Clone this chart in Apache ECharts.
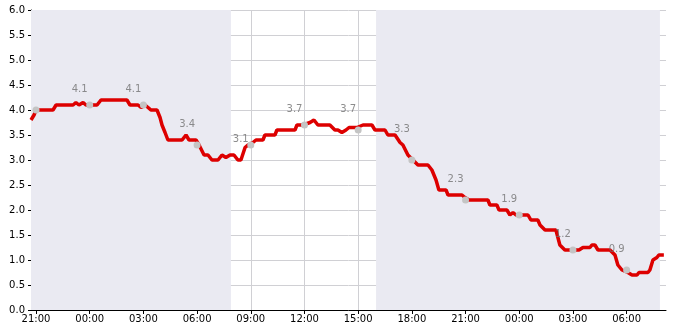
<!DOCTYPE html>
<html><head><meta charset="utf-8">
<script src="https://cdn.jsdelivr.net/npm/echarts@6/dist/echarts.min.js"></script>
<style>html,body{margin:0;padding:0;background:#fff}#c{width:685px;height:330px}</style>
</head><body><div id="c"></div>
<script>
// hours counted from midnight of the first day
const times = [20.72,20.89,21.0,21.95,22.12,23.07,23.23,23.40,23.63,23.79,24.41,24.63,26.08,26.25,26.70,26.87,27.09,27.26,27.42,27.76,27.93,28.04,28.21,28.37,29.16,29.38,29.55,29.94,30.11,30.39,30.61,30.83,31.17,31.39,31.61,31.84,32.06,32.28,32.45,32.68,32.84,33.12,33.29,33.68,33.79,34.35,34.46,35.47,35.58,35.92,36.31,36.53,36.75,37.42,37.70,37.87,38.09,38.32,38.49,38.93,39.27,39.77,39.94,40.50,40.66,41.06,41.34,41.50,41.78,42.06,42.34,42.90,43.12,43.35,43.51,43.91,44.02,44.80,44.97,45.19,46.25,46.36,46.75,46.87,47.31,47.48,47.65,47.82,48.49,48.65,49.04,49.16,49.44,50.05,50.27,50.55,51.34,51.56,51.95,52.06,52.23,52.40,53.07,53.35,53.51,53.74,54.07,54.30,54.58,54.69,55.19,55.30,55.47,55.69,55.80,56.08];
const values = [3.8,3.9,4.0,4.0,4.1,4.1,4.15,4.1,4.15,4.1,4.1,4.2,4.2,4.1,4.1,4.05,4.1,4.05,4.0,4.0,3.85,3.7,3.55,3.4,3.4,3.5,3.4,3.4,3.3,3.1,3.1,3.0,3.0,3.1,3.05,3.1,3.1,3.0,3.0,3.25,3.3,3.35,3.4,3.4,3.5,3.5,3.6,3.6,3.7,3.7,3.75,3.8,3.7,3.7,3.6,3.6,3.55,3.6,3.65,3.65,3.7,3.7,3.6,3.6,3.5,3.5,3.35,3.3,3.1,3.0,2.9,2.9,2.8,2.6,2.4,2.4,2.3,2.3,2.25,2.2,2.2,2.1,2.1,2.0,2.0,1.9,1.95,1.9,1.9,1.8,1.8,1.7,1.6,1.6,1.3,1.2,1.2,1.25,1.25,1.3,1.3,1.2,1.2,1.1,0.9,0.8,0.75,0.7,0.7,0.75,0.75,0.8,1.0,1.05,1.1,1.1];
const markTimes = [21,24,27,30,33,36,39,42,45,48,51,54];
const markValues = [4.0,4.1,4.1,3.3,3.3,3.7,3.6,3.0,2.2,1.9,1.2,0.8];
const labelValues = [null,4.1,4.1,3.4,3.1,3.7,3.7,3.3,2.3,1.9,1.2,0.9];
const nightStart = [20.72,40.0];
const nightEnd = [31.89,55.86];
const xTicks = [21,24,27,30,33,36,39,42,45,48,51,54];
const xMin = 20.72, xMax = 56.2;
const yMin = 0, yMax = 6, yStep = 0.5;

const FONT = 'DejaVu Sans';
const fmtHour = h => String(Math.round(h) % 24).padStart(2,'0') + ':00';
const chart = echarts.init(document.getElementById('c'), null, {renderer:'canvas'});
const lineData = times.map((t,i)=>[t, values[i]]);
const markData = markTimes.map((t,i)=>[t, markValues[i]]);
const labelData = markTimes.map((t,i)=>[t, labelValues[i]]).filter(d=>d[1]!==null);

chart.setOption({
  animation:false,
  backgroundColor:'#ffffff',
  grid:{left:31, right:19, top:10, bottom:20},
  xAxis:{
    type:'value', min:xMin, max:xMax,
    axisLine:{show:true, onZero:false, lineStyle:{color:'#000', width:1}},
    axisTick:{show:true, inside:false, length:4, customValues:xTicks, lineStyle:{color:'#000'}},
    axisLabel:{show:true, customValues:xTicks, formatter:fmtHour, color:'#000', fontFamily:FONT, fontSize:10, margin:4},
    splitLine:{show:true, lineStyle:{color:'#d0d0d4', width:1}}
  },
  yAxis:[{
    type:'value', min:yMin, max:yMax, interval:yStep,
    axisLine:{show:true, lineStyle:{color:'#000', width:1}},
    axisTick:{show:true, inside:true, length:3, lineStyle:{color:'#000'}},
    minorTick:{show:true, splitNumber:5, length:3, lineStyle:{color:'#000'}},
    axisLabel:{formatter:v=>v.toFixed(1), color:'#000', fontFamily:FONT, fontSize:10, margin:6},
    splitLine:{show:true, lineStyle:{color:'#d0d0d4', width:1}}
  },{
    type:'value', min:yMin, max:yMax, interval:yStep, position:'left',
    axisLine:{show:false},
    axisTick:{show:true, inside:false, length:3, lineStyle:{color:'#000'}},
    axisLabel:{show:false},
    splitLine:{show:false}
  }],
  series:[
    {
      type:'line', data:[], z:-1, silent:true,
      markArea:{silent:true, itemStyle:{color:'#eaeaf2'},
        data: nightStart.map((s,i)=>[{xAxis:s},{xAxis:nightEnd[i]}])}
    },
    {
      type:'line', data:lineData, showSymbol:false, z:3,
      lineStyle:{color:'#dd0000', width:3.5}, itemStyle:{color:'#dd0000'}
    },
    {
      type:'scatter', data:markData, symbolSize:7, zlevel:1, z:4,
      itemStyle:{color:'#c4c4c4', opacity:1}
    },
    {
      type:'scatter', data:labelData, symbolSize:1, zlevel:1, z:5,
      itemStyle:{color:'rgba(0,0,0,0)'},
      label:{show:true, position:'inside', offset:[-10,-16], formatter:p=>p.value[1].toFixed(1),
        color:'#707070', fontFamily:FONT, fontSize:10}
    }
  ]
});
</script></body></html>
